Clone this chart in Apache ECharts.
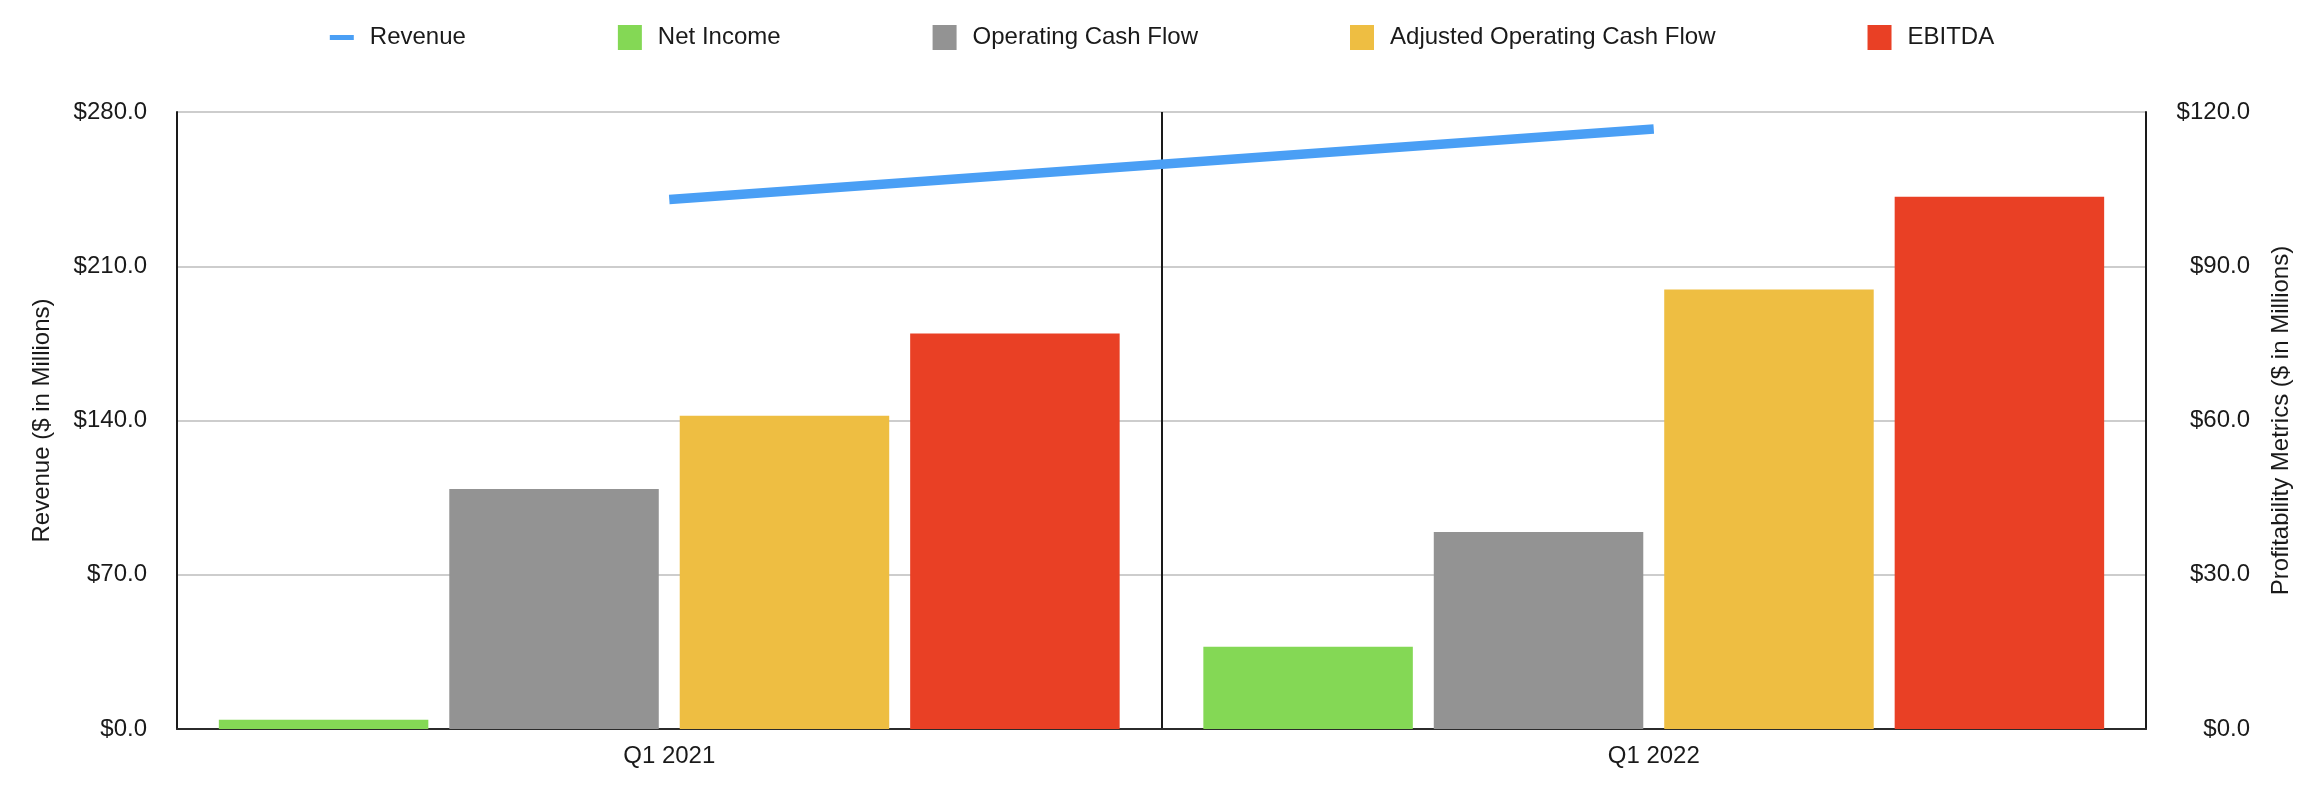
<!DOCTYPE html>
<html>
<head>
<meta charset="utf-8">
<script src="https://cdn.jsdelivr.net/npm/echarts@6/dist/echarts.min.js"></script>
<style>
  html, body { margin: 0; padding: 0; background: #fff; }
  #main { width: 2324px; height: 806px; }
</style>
</head>
<body>
<div id="main"></div>
<script>
const categories = ['Q1 2021', 'Q1 2022']
const revenue = [240.3, 272.3]
const netIncome = [1.8, 16.0]
const operatingCashFlow = [46.7, 38.3]
const adjustedOperatingCashFlow = [60.9, 85.5]
const ebitda = [76.9, 103.5]

const revenueAxis = { min: 0, max: 280, interval: 70 }
const metricsAxis = { min: 0, max: 120, interval: 30 }

const font = "'Liberation Sans', Arial, Helvetica, sans-serif"
const textColor = '#1a1a1a'

function money(v) {
  return '$' + v.toFixed(1)
}

var myChart = echarts.init(document.getElementById('main'))

// bars share one look, only the colour changes
function barSeries(name, data, color) {
  return {
    name: name,
    type: 'bar',
    yAxisIndex: 1,
    data: data,
    barGap: '10%',
    barCategoryGap: '8.5%',
    itemStyle: { color: color },
    emphasis: { disabled: true }
  }
}

option = {
  animation: false,
  textStyle: { fontFamily: font, color: textColor },
  legend: {
    top: 20,
    left: 'center',
    itemWidth: 24,
    itemHeight: 25,
    itemGap: 152,
    textStyle: { fontSize: 24, color: textColor, fontFamily: font, padding: [0, 0, 0, 11] },
    data: [
      { name: 'Revenue', icon: 'path://M0,0H24V5H0Z' },
      { name: 'Net Income', icon: 'rect' },
      { name: 'Operating Cash Flow', icon: 'rect' },
      { name: 'Adjusted Operating Cash Flow', icon: 'rect' },
      { name: 'EBITDA', icon: 'rect' }
    ]
  },
  grid: {
    left: 177,
    right: 178,
    top: 112,
    bottom: 77
  },
  xAxis: {
    type: 'category',
    data: categories,
    axisLine: { lineStyle: { color: '#2b2b2b', width: 2 } },
    axisTick: { show: false },
    axisLabel: { fontSize: 24, color: textColor, margin: 15 },
    splitLine: { show: true, lineStyle: { color: '#1a1a1a', width: 2 } }
  },
  yAxis: [
    {
      type: 'value',
      position: 'left',
      min: revenueAxis.min,
      max: revenueAxis.max,
      interval: revenueAxis.interval,
      name: 'Revenue ($ in Millions)',
      nameLocation: 'middle',
      nameGap: 123,
      nameTextStyle: { fontSize: 24, color: textColor },
      axisLine: { show: true, lineStyle: { color: '#1a1a1a', width: 2 } },
      axisTick: { show: false },
      axisLabel: { fontSize: 24, color: textColor, margin: 30, formatter: money },
      splitLine: { show: true, lineStyle: { color: '#bdbdbd', width: 1.5 } }
    },
    {
      type: 'value',
      position: 'right',
      min: metricsAxis.min,
      max: metricsAxis.max,
      interval: metricsAxis.interval,
      name: 'Profitability Metrics ($ in Millions)',
      nameLocation: 'middle',
      nameGap: 123,
      nameTextStyle: { fontSize: 24, color: textColor },
      axisLine: { show: true, lineStyle: { color: '#1a1a1a', width: 2 } },
      axisTick: { show: false },
      axisLabel: { fontSize: 24, color: textColor, margin: 104, align: 'right', formatter: money },
      splitLine: { show: false }
    }
  ],
  series: [
    {
      name: 'Revenue',
      type: 'line',
      yAxisIndex: 0,
      data: revenue,
      symbol: 'none',
      z: 5,
      lineStyle: { color: '#4a9ff5', width: 9.5, cap: 'butt' },
      itemStyle: { color: '#4a9ff5' },
      emphasis: { disabled: true }
    },
    barSeries('Net Income', netIncome, '#84d855'),
    barSeries('Operating Cash Flow', operatingCashFlow, '#939393'),
    barSeries('Adjusted Operating Cash Flow', adjustedOperatingCashFlow, '#eebe42'),
    barSeries('EBITDA', ebitda, '#e94025')
  ]
}

myChart.setOption(option)
</script>
</body>
</html>
